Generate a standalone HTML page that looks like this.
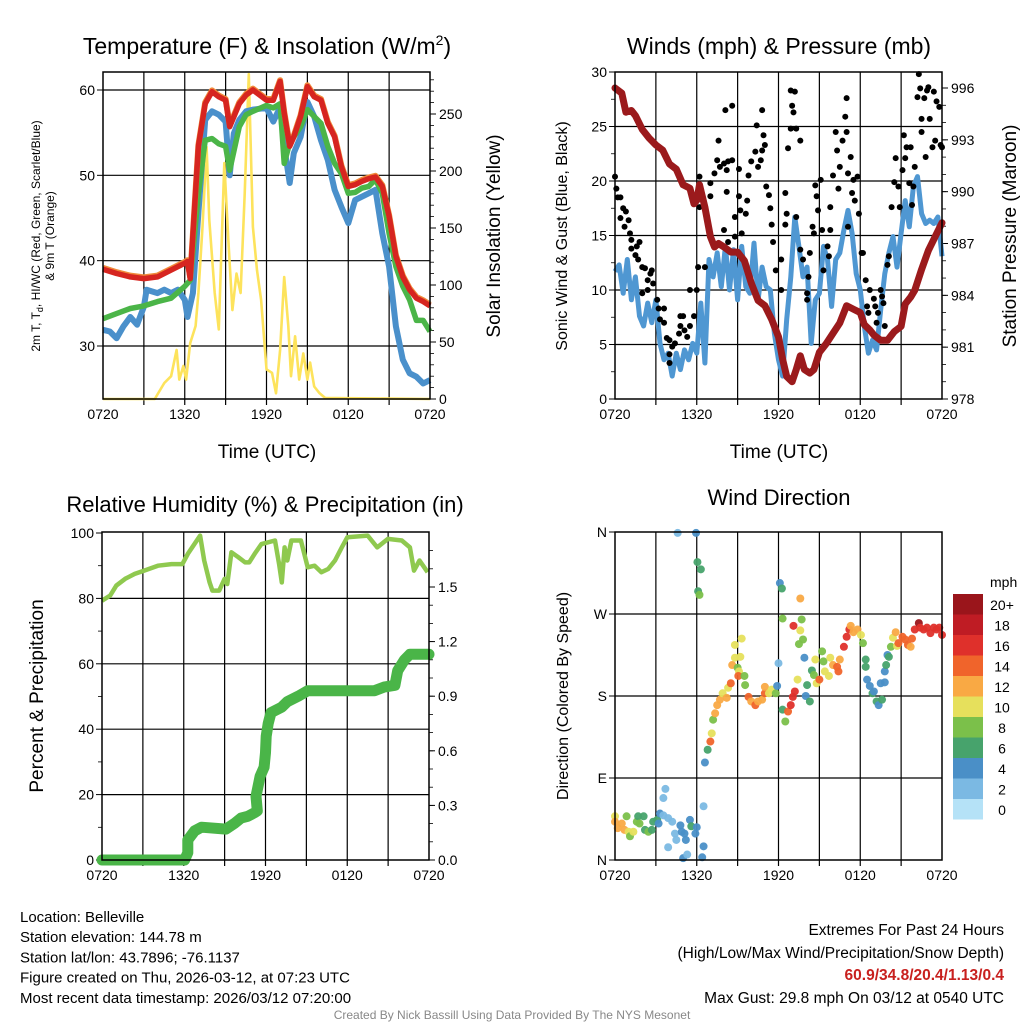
<!DOCTYPE html>
<html><head><meta charset="utf-8"><style>
body{margin:0;background:#fff;}
svg{display:block;font-family:"Liberation Sans",sans-serif;}
</style></head><body>
<svg id="fig" width="1024" height="1024" viewBox="0 0 1024 1024" xmlns="http://www.w3.org/2000/svg"></svg>
<script>
// ---------- DATA ----------
const xTickLabels = ["0720","1320","1920","0120","0720"];
// Panel 1: temperature (F) and insolation
const tempHours = [0,1,2,3,4,5,6,6.2,6.4,7,7.5,8,8.5,9,9.3,10,10.5,11,12,12.5,13,13.3,13.7,14,14.5,15,15.5,16,16.5,17,17.5,18,18.5,19,19.5,20,20.5,21,21.5,22,22.5,23,23.5,24];
const tempRed = [39.0,38.5,38.1,37.9,38.1,38.9,39.7,39.9,37.9,53.4,58.4,59.8,59.2,58.8,55.7,58.4,59.4,60.0,58.8,58.8,61.0,57.3,53.4,54.5,56.9,60.4,59.2,58.8,56.1,54.5,51.0,48.7,48.9,49.3,49.6,49.8,48.7,45.2,40.5,38.1,36.6,35.6,35.2,34.7];
const greenHours = [0,1,2,3,4,5,6,6.4,7,7.5,8,8.5,9,9.3,10,10.5,11,12,12.5,13,13.3,13.7,14,14.5,15,15.5,16,16.5,17,17.5,18,18.5,19,19.5,20,20.5,21,21.5,22,22.5,23,23.5,24];
const tempGreen = [33.2,33.8,34.4,34.7,35.2,35.6,37.0,37.7,47.9,54.1,54.3,53.7,53.4,50.6,55.7,57.1,57.5,58.2,57.9,58.4,51.4,53.8,54.5,55.7,57.7,56.9,56.1,53.4,51.4,50.2,47.9,48.0,48.5,48.7,49.5,47.9,43.2,39.3,37.0,35.4,33.0,33.0,31.7];
const blueHours = [0,0.5,1,1.5,2,2.5,3,3.2,4,4.5,5,5.5,6,6.2,6.6,7,7.5,8,8.5,9,9.3,9.6,10,10.5,11,12,12.5,13,13.3,13.7,14,14.5,15,15.5,16,16.5,17,17.5,18,18.5,19,19.5,20,20.5,21,21.5,22,22.5,23,23.5,24];
const tempBlue = [31.9,31.7,30.9,32.3,33.4,32.5,34.6,36.6,36.2,36.6,36.2,36.6,35.4,33.4,36.2,45.6,56.5,57.5,57.1,56.3,50.0,54.9,56.5,57.5,57.7,57.9,56.3,58.0,53.4,49.1,52.6,54.5,58.6,56.9,54.1,51.8,48.3,46.3,44.4,47.1,47.5,47.9,48.3,43.2,39.3,32.3,28.4,26.8,26.4,25.6,26.0];
const solarHours = [0,3.8,4,4.5,5,5.4,5.6,5.9,6.1,6.4,6.8,7,7.3,7.6,7.8,8.2,8.5,8.9,9.2,9.5,9.8,10.1,10.4,10.7,11,11.3,11.6,12,12.4,12.7,13,13.3,13.6,13.8,14.1,14.4,14.7,15,15.2,15.5,15.9,16.3,24];
const solarValues = [0,0,4,14,20,43,17,29,17,49,64,93,151,221,157,93,61,207,140,78,110,93,180,285,151,113,87,26,23,5,43,107,64,20,55,17,40,17,32,11,5,1,0];
// Panel 2: winds and pressure
const presHours = [0,0.5,0.8,1.2,1.5,2,2.5,3,3.5,4,4.5,5,5.5,5.8,6,6.2,6.6,7,7.3,7.6,8,8.5,9,9.5,10,10.5,11,11.5,12,12.3,12.6,13,13.3,13.6,13.9,14.3,14.6,15,15.5,16,16.5,17,17.5,18,18.3,18.7,19,19.5,20,20.5,21,21.3,21.7,22,22.5,23,23.5,24];
const presValues = [996,995.7,994.6,994.7,994.4,993.6,993.1,992.7,992.4,991.6,991.3,990.4,990.2,989.3,989.5,990.4,989.1,987.4,986.8,987,986.8,986.5,986.5,986,984.7,983.7,983.4,982.6,981.6,980.3,979.3,979,979.7,980.5,979.7,979.5,979.7,980.7,981.2,981.8,982.4,983.4,983.2,983,982.3,982,981.7,981.4,981.4,981.9,982.2,983.5,983.9,984.3,985.5,986.6,987.4,988.2];
const windHours = [0,0.3,0.6,0.9,1.2,1.5,1.8,2.1,2.4,2.7,3,3.3,3.6,3.9,4.2,4.5,4.8,5.1,5.4,5.7,6,6.3,6.6,6.9,7.2,7.5,7.8,8.1,8.4,8.7,9,9.3,9.6,9.9,10.2,10.5,10.8,11.1,11.4,11.7,12,12.3,12.6,12.9,13.2,13.5,13.8,14.1,14.4,14.7,15,15.3,15.6,15.9,16.2,16.5,16.8,17.1,17.4,17.7,18,18.3,18.6,18.9,19.2,19.5,19.8,20.1,20.4,20.7,21,21.3,21.6,21.9,22.2,22.5,22.8,23.1,23.4,23.7,24];
const windSpeed = [11.7,12.3,9.7,12.8,9.1,11.2,7.6,6.7,8.8,7.0,9.1,5.1,3.6,4.2,2.1,4.2,2.7,4.5,3.6,5.1,4.2,8.8,3.3,12.8,11.2,13.4,10.3,14.0,10.0,13.7,9.1,14.0,10.3,9.7,14.3,9.1,12.1,10.3,10.0,6.0,3.6,2.1,7.3,11.2,16.7,14.0,11.2,12.1,5.1,9.1,9.7,14.0,12.8,8.5,12.8,13.4,15.5,17.3,15.2,11.5,10.0,6.7,4.2,5.4,4.5,8.2,11.5,13.4,14.9,12.1,15.2,18.2,15.8,19.5,20.4,17.0,16.1,16.4,16.1,16.7,13.1];
const gustHours = [0,0.1,0.2,0.4,0.4,0.6,0.8,1.0,0.7,1.1,1.2,1.2,1.5,1.6,1.7,1.8,2.0,2.2,2.6,2.7,2.4,2.0,2.4,2.8,3.1,3.2,3.6,3.3,3.6,3.8,4.0,4.2,4.4,4.7,4.0,4.0,4.8,5.0,4.8,5.1,5.3,5.5,5.5,5.8,6.0,6.1,6.2,6.2,6.6,7.0,7.0,7.3,7.6,7.5,7.7,8.0,8.2,8.3,8.6,8.6,8.1,8.2,8.0,8.3,8.8,8.8,9.1,9.1,9.3,9.2,9.6,9.7,9.8,10.0,10.3,10.4,10.5,10.7,10.8,10.9,10.8,11.0,11.1,11.3,11.4,11.5,11.6,11.8,12.2,12.2,12.5,12.6,12.5,12.7,12.9,13.0,13.1,12.9,13.2,13.3,13.6,13.3,13.6,13.8,14.1,14.2,14.1,14.3,14.5,14.6,14.7,14.8,14.9,15.1,15.2,15.3,15.6,15.8,15.7,15.8,16.0,16.2,16.3,16.4,16.5,16.7,16.9,17.0,17.0,17.1,17.3,17.4,17.5,17.1,17.6,17.8,17.9,18.1,18.2,18.4,18.5,18.6,18.7,19.0,19.1,19.2,19.3,19.5,19.6,19.7,19.8,20.0,20.1,20.3,20.5,20.6,20.8,20.9,21.1,21.2,21.3,21.4,21.6,21.7,21.8,21.9,22.0,22.2,22.3,22.4,22.5,22.5,22.7,22.8,22.9,23.0,23.1,23.3,23.4,23.5,23.6,23.8,23.9,24.0];
const gustValues = [20.4,19.3,18.5,18.5,16.6,17.5,17.2,16.4,15.8,15.2,14.6,13.8,13.2,14.0,12.8,14.4,12.1,12.0,11.5,11.8,10.9,9.7,10.0,10.6,9.1,8.3,8.3,7.3,7.0,5.6,5.4,4.8,5.1,6.0,4.1,3.3,7.6,7.6,6.7,6.3,5.7,6.7,10.0,7.6,10.0,12.1,20.4,17.6,12.1,19.8,18.6,20.7,23.7,21.9,21.3,21.6,21.0,21.8,21.9,26.9,26.5,19.0,15.5,14.4,14.9,16.7,18.6,21.1,15.2,17.3,17.0,18.2,20.5,21.8,22.7,25.1,21.3,21.9,22.8,24.2,26.5,23.3,19.5,18.7,17.5,16.0,14.4,11.8,12.8,10.0,18.9,17.0,16.0,23.0,24.8,26.9,26.3,28.3,28.2,24.8,23.7,16.7,13.7,12.8,9.7,11.2,9.1,13.4,15.8,15.2,19.6,18.6,17.3,20.1,15.5,11.8,14.0,15.5,13.1,17.6,20.5,24.5,22.8,19.3,21.3,23.7,25.9,27.6,24.5,20.7,22.2,18.9,20.1,15.8,18.2,20.4,17.0,13.4,13.4,10.9,8.5,7.9,10.0,9.2,8.5,7.0,7.9,10.0,9.4,8.8,6.7,12.3,13.1,17.6,19.9,22.1,19.5,17.6,21.0,24.2,22.1,23.1,19.8,23.1,17.8,19.5,21.3,27.7,29.8,28.5,25.7,24.5,27.6,22.2,28.3,28.6,25.7,23.1,28.2,23.7,27.3,26.8,23.3,23.1];
// Panel 3: RH and precipitation
const rhHours = [0,0.6,1.05,1.7,2.4,3.1,4.1,5.1,5.9,6.3,7.2,7.5,7.9,8.1,8.6,9,9.2,9.5,10,10.5,10.8,11.2,11.7,12.7,13,13.2,13.4,13.6,13.9,14.6,15.1,15.6,16.1,16.6,17.1,17.6,18,19.5,20.2,20.98,22,22.6,22.9,23.3,23.9];
const rhValues = [79.3,80.9,83.9,86,87.5,88.5,90,90.5,90.5,93.6,99.2,91.6,84.9,82.4,82.4,86,84.4,94.1,92.6,91,91,93.6,96.6,97.7,90.5,84.9,95.6,91.6,97.7,97.7,89.5,90,88,89,91.6,95.6,98.7,99.2,95.6,98.2,97.7,95.6,88.5,91.6,88];
const precipHours = [0,6.06,6.3,6.3,6.8,7.3,9.1,9.7,10.2,10.7,11.2,11.4,11.3,11.6,11.9,12.0,12.05,12.2,12.4,13.2,13.6,14.4,15.1,16.6,20,20.7,21.5,21.7,22.2,22.6,22.9,24];
const precipValues = [0,0,0.04,0.11,0.16,0.18,0.17,0.2,0.23,0.24,0.26,0.27,0.35,0.46,0.51,0.59,0.68,0.75,0.81,0.84,0.87,0.9,0.93,0.93,0.93,0.95,0.96,1.04,1.1,1.13,1.13,1.13];
// Panel 4: wind direction colored by speed
const dirHours = [0,0,0.2,0.5,0.7,1.0,0.85,1.1,1.35,1.6,1.7,1.8,2.1,2.2,2.45,2.7,2.8,3.1,3.2,3.3,3.55,3.7,3.55,3.9,4.2,4.4,4.5,3.9,4.8,4.9,5.1,5.2,5.0,5.3,5.5,5.6,5.9,6.0,6.5,6.4,6.5,4.6,5.95,6.05,6.3,6.1,6.2,6.6,6.8,7.0,7.1,7.2,7.35,7.5,7.7,7.9,8.2,8.3,8.5,8.6,8.8,8.8,9.2,9.3,9.0,9.1,9.05,9.5,9.55,9.8,10.0,10.3,10.5,10.8,11.0,11.0,11.3,11.5,11.8,11.9,12.0,12.1,12.25,12.3,12.3,12.5,12.7,12.9,13.05,13.2,13.4,13.1,13.6,13.7,13.8,13.5,13.6,13.9,14.0,14.1,14.3,14.45,14.6,14.7,14.8,15.0,15.2,15.3,15.4,15.7,15.8,16.0,16.3,16.4,16.5,16.8,17.0,17.2,17.3,17.5,17.8,18.05,18.2,18.4,18.4,18.5,18.7,18.9,19.0,19.2,19.35,19.6,19.5,19.8,19.8,19.9,20.0,20.1,20.25,20.4,20.6,20.7,20.8,21.1,21.3,21.5,21.7,21.8,22.0,22.3,22.4,22.65,22.9,23.15,23.4,23.6,23.8,24];
const dirDegrees = [48,42,35,40,33,31,48,26,31,42,48,40,48,33,31,33,42,44,40,51,49,78,68,46,42,29,22,14,38,31,29,22,2,6,44,37,29,36,15,3,59,359,359,327,319,295,291,107,121,130,139,154,161,170,176,183,178,189,194,214,222,236,223,243,211,207,202,202,192,179,174,170,174,176,183,190,183,187,183,191,216,304,298,265,165,152,163,170,179,185,198,257,252,264,242,237,287,222,180,192,174,208,203,220,194,198,229,218,207,202,222,214,212,207,220,234,245,253,257,250,253,247,238,220,212,198,191,183,185,174,170,176,194,195,207,214,225,223,234,244,250,235,238,245,242,236,234,243,253,260,255,253,255,249,255,253,255,247];
const dirSpeeds = [10,12,12,12,12,10,8,8,10,8,6,8,6,6,8,6,6,6,4,4,2,2,2,2,2,2,2,2,4,4,4,4,4,2,4,6,4,4,4,4,2,2,4,6,6,6,8,4,6,14,10,8,12,12,12,10,12,10,14,12,10,10,10,10,8,10,14,8,8,14,12,14,12,12,14,12,10,10,8,4,2,4,6,8,6,8,14,16,16,16,10,16,10,8,8,8,12,4,4,6,6,6,8,10,10,14,8,8,10,10,10,12,14,14,12,16,16,16,12,12,12,10,8,6,6,4,4,6,4,6,4,6,4,4,4,6,4,6,8,10,12,10,14,14,14,14,12,14,16,20,16,16,16,16,16,16,16,16];
const speedBins = ["0","2","4","6","8","10","12","14","16","18","20+"];
const speedColors = ["#b5e2f7","#7bb9e3","#4a8fc7","#47a36c","#7bc04a","#e6e05c","#f9a944","#f0642b","#df302b","#bf1c24","#9a151b"];

// ---------- HELPERS ----------
const NS = "http://www.w3.org/2000/svg";
const svg = document.getElementById("fig");
function mk(tag, attrs, parent) {
  const e = document.createElementNS(NS, tag);
  for (const k in attrs) e.setAttribute(k, attrs[k]);
  (parent || svg).appendChild(e);
  return e;
}
function txt(x, y, s, size, anchor, parent, extra) {
  const t = mk("text", Object.assign({x: x, y: y, "font-size": size, "text-anchor": anchor || "middle", fill: "#000"}, extra || {}), parent);
  t.textContent = s;
  return t;
}
function lin(d0, d1, r0, r1) { return v => r0 + (v - d0) / (d1 - d0) * (r1 - r0); }

function panel(name, X0, X1, Y0, Y1) {
  const g = mk("g", {});
  
  
  const xs = lin(0, 24, X0, X1);
  for (let h = 3; h < 24; h += 3) {
    const l = mk("line", {x1: xs(h), x2: xs(h), y1: Y0, y2: Y1 + 6, stroke: "#000", "stroke-width": 1.2}, g);
    
    
  }
  xTickLabels.forEach((s, i) => {
    const t = txt(xs(i * 6), Y1 + 20, s, 14, "middle", g);
    
    
  });
  return {g: g, xs: xs, X0: X0, X1: X1, Y0: Y0, Y1: Y1};
}
function hgrid(p, ys, vals, labels, side, minorVals, grid) {
  vals.forEach((v, i) => {
    const y = ys(v);
    if (grid && y > p.Y0 + 1 && y < p.Y1 - 1) {
      const l = mk("line", {x1: p.X0, x2: p.X1, y1: y, y2: y, stroke: "#000", "stroke-width": 1.2}, p.g);
      
      
    }
    const tx = side === "left" ? p.X0 : p.X1;
    const d = side === "left" ? -6 : 6;
    mk("line", {x1: tx, x2: tx + d, y1: y, y2: y, stroke: "#000", "stroke-width": 1}, p.g);
    const t = txt(side === "left" ? tx - 8 : tx + 9, y + 5, labels[i], 14, side === "left" ? "end" : "start", p.g);
    
    
  });
  (minorVals || []).forEach(v => {
    const y = ys(v);
    const tx = side === "left" ? p.X0 : p.X1;
    mk("line", {x1: tx, x2: tx + (side === "left" ? -4 : 4), y1: y, y2: y, stroke: "#000", "stroke-width": 0.8}, p.g);
  });
}
function frame(p) {
  const r = mk("rect", {x: p.X0, y: p.Y0, width: p.X1 - p.X0, height: p.Y1 - p.Y0, fill: "none", stroke: "#000", "stroke-width": 1.5}, p.g);
  
  
}
function pathFrom(xsArr, ysArr, xs, ys) {
  return xsArr.map((h, i) => (i ? "L" : "M") + xs(h).toFixed(1) + "," + ys(ysArr[i]).toFixed(1)).join("");
}
function range(a, b, s) { const r = []; for (let v = a; v <= b + 1e-9; v += s) r.push(+v.toFixed(3)); return r; }

// ---------- PANEL 1 ----------
const p1 = panel("temperature-panel", 103, 430, 72, 399);
const yT = lin(30, 60, 346, 90);
const yS = lin(0, 250, 399, 114);
hgrid(p1, yT, [30,40,50,60], ["30","40","50","60"], "left", [], true);
hgrid(p1, yS, [0,50,100,150,200,250], ["0","50","100","150","200","250"], "right", range(10, 280, 10), false);
let e;
e = mk("path", {d: pathFrom(solarHours, solarValues, p1.xs, yS), fill: "none", stroke: "#fde35c", "stroke-width": 2.6, "stroke-linejoin": "round"}, p1.g);


e = mk("path", {d: pathFrom(blueHours, tempBlue, p1.xs, yT), fill: "none", stroke: "#4a90cb", "stroke-width": 6, "stroke-linejoin": "round"}, p1.g);


e = mk("path", {d: pathFrom(greenHours, tempGreen, p1.xs, yT), fill: "none", stroke: "#4bb548", "stroke-width": 5.5, "stroke-linejoin": "round"}, p1.g);


e = mk("path", {d: pathFrom(tempHours, tempRed.map(v => v + 0.15), p1.xs, yT), fill: "none", stroke: "#f08a3a", "stroke-width": 6, "stroke-linejoin": "round"}, p1.g);


e = mk("path", {d: pathFrom(tempHours, tempRed, p1.xs, yT), fill: "none", stroke: "#d62520", "stroke-width": 5.5, "stroke-linejoin": "round"}, p1.g);


frame(p1);
e = mk("text", {x: 267, y: 54, "font-size": 23, "text-anchor": "middle"});
e.innerHTML = 'Temperature (F) &amp; Insolation (W/m<tspan dy="-9" font-size="14">2</tspan><tspan dy="9">)</tspan>';


e = txt(267, 458, "Time (UTC)", 19);


e = mk("text", {x: 0, y: 0, "font-size": 12, "text-anchor": "middle", transform: "translate(40,236) rotate(-90)"});
e.innerHTML = '2m T, T<tspan dy="3" font-size="9">d</tspan><tspan dy="-3">, HI/WC (Red, Green, Scarlet/Blue)</tspan>';


e = txt(0, 0, "& 9m T (Orange)", 12, "middle", null, {transform: "translate(54,236) rotate(-90)"});


e = txt(0, 0, "Solar Insolation (Yellow)", 19, "middle", null, {transform: "translate(500,236) rotate(-90)"});



// ---------- PANEL 2 ----------
const p2 = panel("wind-pressure-panel", 615, 942, 72, 399);
const yW = lin(0, 30, 399, 72);
const yP = lin(978, 996, 399, 88);
hgrid(p2, yW, [0,5,10,15,20,25,30], ["0","5","10","15","20","25","30"], "left", range(2.5, 27.5, 5), true);
hgrid(p2, yP, [978,981,984,987,990,993,996], ["978","981","984","987","990","993","996"], "right", range(979, 996, 1), false);
e = mk("path", {d: pathFrom(windHours, windSpeed, p2.xs, yW), fill: "none", stroke: "#4f97d2", "stroke-width": 5, "stroke-linejoin": "round"}, p2.g);


gustHours.forEach((h, i) => {
  const c = mk("circle", {cx: p2.xs(h), cy: yW(gustValues[i]), r: 3, fill: "#000"}, p2.g);
  
  
});
e = mk("path", {d: pathFrom(presHours, presValues, p2.xs, yP), fill: "none", stroke: "#9b1a1c", "stroke-width": 7, "stroke-linejoin": "round", "stroke-linecap": "round"}, p2.g);


frame(p2);
e = txt(779, 54, "Winds (mph) & Pressure (mb)", 23);


e = txt(779, 458, "Time (UTC)", 19);


e = txt(0, 0, "Sonic Wind & Gust (Blue, Black)", 16, "middle", null, {transform: "translate(567,236) rotate(-90)"});


e = txt(0, 0, "Station Pressure (Maroon)", 19, "middle", null, {transform: "translate(1016,236) rotate(-90)"});



// ---------- PANEL 3 ----------
const p3 = panel("humidity-precip-panel", 102, 429, 532, 860);
const yR = lin(0, 100, 860, 533);
const yPr = lin(0, 1.5, 860, 587);
hgrid(p3, yR, [0,20,40,60,80,100], ["0","20","40","60","80","100"], "left", range(10, 90, 20), true);
hgrid(p3, yPr, [0,0.3,0.6,0.9,1.2,1.5], ["0.0","0.3","0.6","0.9","1.2","1.5"], "right", range(0.1, 1.7, 0.1), false);
e = mk("path", {d: pathFrom(rhHours, rhValues, p3.xs, yR), fill: "none", stroke: "#8fc94f", "stroke-width": 4.5, "stroke-linejoin": "round"}, p3.g);


e = mk("path", {d: pathFrom(precipHours, precipValues, p3.xs, yPr), fill: "none", stroke: "#4ab548", "stroke-width": 11, "stroke-linejoin": "round", "stroke-linecap": "round"}, p3.g);


frame(p3);
e = txt(265, 512, "Relative Humidity (%) & Precipitation (in)", 22);


e = txt(0, 0, "Percent & Precipitation", 19, "middle", null, {transform: "translate(43,696) rotate(-90)"});



// ---------- PANEL 4 ----------
const p4 = panel("wind-direction-panel", 615, 942, 532, 860);
const yD = lin(0, 360, 860, 532);
hgrid(p4, yD, [0,90,180,270,360], ["N","E","S","W","N"], "left", [], true);
dirHours.forEach((h, i) => {
  const bin = Math.min(10, Math.floor(dirSpeeds[i] / 2));
  const c = mk("circle", {cx: p4.xs(h), cy: yD(dirDegrees[i]), r: 4, fill: speedColors[bin], "fill-opacity": 0.95}, p4.g);
  
  
});
frame(p4);
e = txt(779, 505, "Wind Direction", 22);


e = txt(0, 0, "Direction (Colored By Speed)", 16, "middle", null, {transform: "translate(568,696) rotate(-90)"});


const cb = mk("g", {});


e = txt(990, 587, "mph", 14, "start", cb);


for (let i = 0; i < speedBins.length; i++) {
  const y = 594 + (10 - i) * 20.5;
  const r = mk("rect", {x: 953, y: y, width: 30, height: 20.5, fill: speedColors[i]}, cb);
  
  
  const t = txt(1002, y + 16, speedBins[i], 14, "middle", cb);
  
  
}

// ---------- FOOTER ----------
const leftLines = ["Location: Belleville","Station elevation: 144.78 m","Station lat/lon: 43.7896; -76.1137","Figure created on Thu, 2026-03-12, at 07:23 UTC","Most recent data timestamp: 2026/03/12 07:20:00"];
leftLines.forEach((s, i) => {
  const t = txt(20, 922 + i * 20.2, s, 15, "start");
  
  
});
e = txt(1004, 935, "Extremes For Past 24 Hours", 15.5, "end");


e = txt(1004, 958, "(High/Low/Max Wind/Precipitation/Snow Depth)", 15.5, "end");


e = txt(1004, 980, "60.9/34.8/20.4/1.13/0.4", 15.5, "end", null, {fill: "#c8201e", "font-weight": "bold"});


e = txt(1004, 1003, "Max Gust: 29.8 mph On 03/12 at 0540 UTC", 15.5, "end");


e = txt(512, 1019, "Created By Nick Bassill Using Data Provided By The NYS Mesonet", 12, "middle", null, {fill: "#888"});


</script>
</body></html>
